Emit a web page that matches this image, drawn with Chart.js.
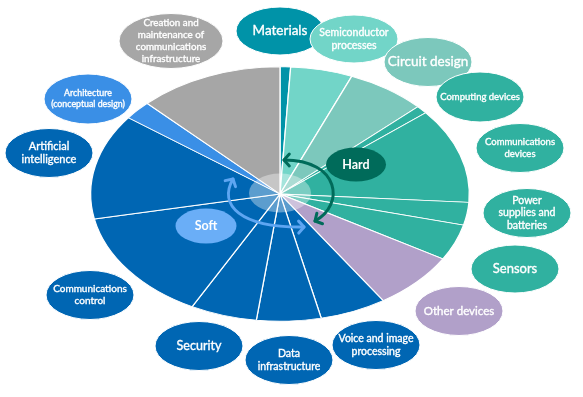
<!DOCTYPE html>
<html>
<head>
<meta charset="utf-8">
<script src="https://cdn.jsdelivr.net/npm/chart.js@4.4.1/dist/chart.umd.min.js"></script>
<style>
    html, body { margin: 0; padding: 0; background: #ffffff; }
    #wrap { width: 583px; height: 397px; }
</style>
</head>
<body>
<div id="wrap"><canvas id="techChart" width="583" height="397"></canvas></div>
<script>
// Categories, clockwise from 12 o'clock
const categories = [
    'Materials',
    'Semiconductor processes',
    'Circuit design',
    'Computing devices',
    'Communications devices',
    'Power supplies and batteries',
    'Sensors',
    'Other devices',
    'Voice and image processing',
    'Data infrastructure',
    'Security',
    'Communications control',
    'Artificial intelligence',
    'Architecture (conceptual design)',
    'Creation and maintenance of communications infrastructure'
];

// Share of the circle (%)
const shares = [0.9, 5.3, 6.8, 1.0, 12.1, 2.9, 4.6, 7.3, 5.7, 5.5, 5.7, 14.2, 13.4, 2.4, 12.4];

// How each category name is broken inside its bubble
const labelLines = [
    ['Materials'],
    ['Semiconductor', 'processes'],
    ['Circuit design'],
    ['Computing devices'],
    ['Communications', 'devices'],
    ['Power', 'supplies and', 'batteries'],
    ['Sensors'],
    ['Other devices'],
    ['Voice and image', 'processing'],
    ['Data', 'infrastructure'],
    ['Security'],
    ['Communications', 'control'],
    ['Artificial', 'intelligence'],
    ['Architecture', '(conceptual design)'],
    ['Creation and', 'maintenance of', 'communications', 'infrastructure']
];

const groupLabels = ['Hard', 'Soft'];

// styles
const TEAL = '#30b1a0';
const BLUE = '#0066b3';
const sliceColors = [
    '#0093a8', '#72d5c8', '#7cc8bc', TEAL, TEAL, TEAL, TEAL,
    '#b1a0c9', BLUE, BLUE, BLUE, BLUE, BLUE, '#3a8fe6', '#a6a6a6'
];
const HARD_COLOR = '#006b5a';
const SOFT_COLOR = '#5ea6f2';
const SOFT_BUBBLE = '#6aaef7';
const FONT = 'Lato, "Noto Sans", sans-serif';

// bubble placement (x, y, radii, font size)
const bubbles = [
    { x: 280, y: 31,  rx: 44, ry: 24,   size: 13.5 },
    { x: 354, y: 39,  rx: 44, ry: 24,   size: 10.5 },
    { x: 428, y: 62,  rx: 44, ry: 24.5, size: 13.5 },
    { x: 480, y: 97,  rx: 44, ry: 25,   size: 9.5 },
    { x: 520, y: 148, rx: 44, ry: 24.5, size: 9.5 },
    { x: 527, y: 213, rx: 44, ry: 24.5, size: 10.5 },
    { x: 515, y: 269, rx: 44, ry: 24,   size: 13 },
    { x: 459, y: 311, rx: 44, ry: 24.5, size: 11.5 },
    { x: 376, y: 345, rx: 44, ry: 24.5, size: 10.5 },
    { x: 289, y: 360, rx: 44, ry: 24.5, size: 10.5 },
    { x: 199, y: 346, rx: 44, ry: 24.5, size: 12.5 },
    { x: 90,  y: 295, rx: 44, ry: 24.5, size: 10 },
    { x: 49,  y: 153, rx: 44, ry: 24.5, size: 11 },
    { x: 88,  y: 99,  rx: 44, ry: 25,   size: 8.8 },
    { x: 171, y: 41,  rx: 52, ry: 27.5, size: 9.8 }
];

const SQUASH = 0.672;

// squash the pie vertically so it looks tilted
const tiltPie = {
    id: 'tiltPie',
    beforeDatasetsDraw(chart) {
        const arc = chart.getDatasetMeta(0).data[0];
        const ctx = chart.ctx;
        ctx.save();
        ctx.translate(arc.x, arc.y);
        ctx.scale(1, SQUASH);
        ctx.translate(-arc.x, -arc.y);
    },
    afterDatasetsDraw(chart) {
        chart.ctx.restore();
    }
};

function ellipse(ctx, x, y, rx, ry, fill, stroke) {
    ctx.beginPath();
    ctx.ellipse(x, y, rx, ry, 0, 0, Math.PI * 2);
    ctx.fillStyle = fill;
    ctx.fill();
    if (stroke) {
        ctx.lineWidth = 1;
        ctx.strokeStyle = stroke;
        ctx.stroke();
    }
}

function writeLines(ctx, lines, x, y, size, bold) {
    ctx.font = (bold ? 'bold ' : '') + size + 'px ' + FONT;
    ctx.fillStyle = '#ffffff';
    ctx.strokeStyle = '#ffffff';
    ctx.lineWidth = bold ? 0 : 0.35;
    ctx.textAlign = 'center';
    ctx.textBaseline = 'middle';
    const step = size * 1.22;
    const top = y - step * (lines.length - 1) / 2;
    lines.forEach((line, i) => {
        ctx.fillText(line, x, top + i * step);
        if (!bold) ctx.strokeText(line, x, top + i * step);
    });
}

function arrowHead(ctx, x, y, angle, size) {
    ctx.beginPath();
    ctx.moveTo(x + size * Math.cos(angle + 2.3), y + size * Math.sin(angle + 2.3));
    ctx.lineTo(x, y);
    ctx.lineTo(x + size * Math.cos(angle - 2.3), y + size * Math.sin(angle - 2.3));
    ctx.stroke();
}

// double headed curved arrow along a cubic curve (offsets from pie centre)
function curvedArrow(ctx, cx, cy, pts, color) {
    const [p0, p1, p2, p3] = pts.map(p => [cx + p[0], cy + p[1]]);
    ctx.save();
    ctx.strokeStyle = color;
    ctx.lineWidth = 3;
    ctx.lineCap = 'round';
    ctx.lineJoin = 'round';
    ctx.beginPath();
    ctx.moveTo(p0[0], p0[1]);
    ctx.bezierCurveTo(p1[0], p1[1], p2[0], p2[1], p3[0], p3[1]);
    ctx.stroke();
    arrowHead(ctx, p0[0], p0[1], Math.atan2(p0[1] - p1[1], p0[0] - p1[0]), 8);
    arrowHead(ctx, p3[0], p3[1], Math.atan2(p3[1] - p2[1], p3[0] - p2[0]), 8);
    ctx.restore();
}

const overlay = {
    id: 'overlay',
    afterDraw(chart) {
        const ctx = chart.ctx;
        const arc = chart.getDatasetMeta(0).data[0];
        const cx = arc.x, cy = arc.y;

        // soft glow in the middle of the pie
        ellipse(ctx, cx, cy - 1, 31, 19.5, 'rgba(255,255,255,0.36)');

        curvedArrow(ctx, cx, cy, [[4, -34], [60, -34], [65, 11], [35, 27]], HARD_COLOR);
        curvedArrow(ctx, cx, cy, [[-47, -15], [-62, 11], [-40, 34], [24, 33]], SOFT_COLOR);

        ellipse(ctx, cx + 76, cy - 29.5, 30, 17, HARD_COLOR);
        writeLines(ctx, [groupLabels[0]], cx + 76, cy - 29.5, 12.5, true);
        ellipse(ctx, cx - 74, cy + 32, 30.5, 17.5, SOFT_BUBBLE);
        writeLines(ctx, [groupLabels[1]], cx - 74, cy + 32, 12.5, true);

        bubbles.forEach((b, i) => {
            ellipse(ctx, b.x, b.y, b.rx, b.ry, sliceColors[i], '#ffffff');
            writeLines(ctx, labelLines[i], b.x, b.y, b.size, false);
        });
    }
};

new Chart(document.getElementById('techChart'), {
    type: 'pie',
    data: {
        labels: categories,
        datasets: [{
            data: shares,
            backgroundColor: sliceColors,
            borderColor: '#ffffff',
            borderWidth: 1.3
        }]
    },
    options: {
        responsive: false,
        animation: false,
        layout: {
            padding: { left: 90, right: 113, top: 4, bottom: 13 }
        },
        plugins: {
            legend: { display: false },
            tooltip: { enabled: false }
        }
    },
    plugins: [tiltPie, overlay]
});
</script>
</body>
</html>
